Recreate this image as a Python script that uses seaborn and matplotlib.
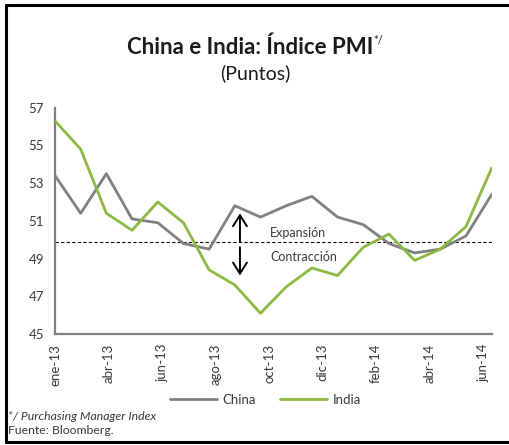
import numpy as np
import pandas as pd
import seaborn as sns
import matplotlib.pyplot as plt
from matplotlib.lines import Line2D

# Datos (puntos PMI, mensual ene-13 a jun-14)
meses = ['ene-13', 'feb-13', 'mar-13', 'abr-13', 'may-13', 'jun-13', 'jul-13', 'ago-13', 'sep-13',
         'oct-13', 'nov-13', 'dic-13', 'ene-14', 'feb-14', 'mar-14', 'abr-14', 'may-14', 'jun-14']
china = [53.4, 51.4, 53.5, 51.1, 50.9, 49.8, 49.5, 51.8, 51.2,
         51.8, 52.3, 51.2, 50.8, 49.8, 49.3, 49.5, 50.2, 52.4]
india = [56.3, 54.8, 51.4, 50.5, 52.0, 50.9, 48.4, 47.6, 46.1,
         47.5, 48.5, 48.1, 49.6, 50.3, 48.9, 49.5, 50.7, 53.8]
etiquetas_x = ['ene-13', 'abr-13', 'jun-13', 'ago-13', 'oct-13', 'dic-13', 'feb-14', 'abr-14', 'jun-14']
umbral = 49.9

gris = '#808080'
verde = '#8DB842'
texto = '#3a3a3a'

sns.set_style("white")
plt.rcParams['font.family'] = ['Lato', 'DejaVu Sans']

df = pd.DataFrame({'x': np.arange(len(meses)), 'China': china, 'India': india})
df_long = df.melt(id_vars='x', var_name='pais', value_name='pmi')

fig = plt.figure(figsize=(5.1, 4.45), dpi=100)
ax = fig.add_axes([55 / 510, 1 - 334 / 445, (491.7 - 55) / 510, (334 - 107.7) / 445])

sns.lineplot(data=df_long, x='x', y='pmi', hue='pais', palette={'China': gris, 'India': verde},
             linewidth=2.0, ax=ax, legend=False, zorder=3)

ax.axhline(umbral, color='black', linestyle=(0, (3, 2)), linewidth=0.8, zorder=2)

# flechas expansión / contracción
flecha = dict(arrowstyle='->, head_length=0.4, head_width=0.25', color='black', lw=1.4,
              mutation_scale=20, shrinkA=0, shrinkB=0)
ax.annotate('', xy=(7.2, 51.4), xytext=(7.2, umbral), arrowprops=flecha)
ax.annotate('', xy=(7.2, 48.1), xytext=(7.2, 49.6), arrowprops=flecha)
ax.text(8.37, 50.35, 'Expansión', fontsize=9, color=texto, va='center', ha='left')
ax.text(8.37, 49.1, 'Contracción', fontsize=9, color=texto, va='center', ha='left')

ax.set_xlim(0, 17)
ax.set_ylim(45, 57)
ax.set_yticks(np.arange(45, 58, 2))
ax.set_xticks(np.arange(len(etiquetas_x)) * 25 / 12)
ax.set_xticklabels(etiquetas_x, rotation=90)
ax.set_xlabel('')
ax.set_ylabel('')

for lado in ['top', 'right']:
    ax.spines[lado].set_visible(False)
for lado in ['left', 'bottom']:
    ax.spines[lado].set_color(gris)
    ax.spines[lado].set_linewidth(1.6)
ax.tick_params(axis='x', direction='inout', length=8, width=1.3, color=gris, labelsize=9.5,
               labelcolor=texto, pad=3)
ax.tick_params(axis='y', direction='out', length=4, width=1.3, color=gris, labelsize=9.5,
               labelcolor=texto, pad=4)

# leyenda
handles = [Line2D([], [], color=gris, lw=2.0), Line2D([], [], color=verde, lw=2.0)]
fig.legend(handles, ['China', 'India'], loc='center', bbox_to_anchor=(0.52, 1 - 400 / 445),
           ncol=2, frameon=False, fontsize=9.5, handlelength=3.6, columnspacing=1.8,
           handletextpad=0.4, labelcolor=texto)

# título
t = fig.text(0.49, 1 - 47 / 445, 'China e India: Índice PMI', ha='center', va='center',
             fontsize=16, fontweight='bold', color='#1a1a1a')
fig.canvas.draw()
bb = t.get_window_extent()
fig.text(bb.x1 / 510 + 0.001, 1 - 40 / 445, '*/', ha='left', va='center', fontsize=8, color='#1a1a1a')
fig.text(0.5, 1 - 73 / 445, '(Puntos)', ha='center', va='center', fontsize=14, color='#1a1a1a')

fig.text(8 / 510, 1 - 417 / 445, '*/ Purchasing Manager Index', ha='left', va='center',
         fontsize=8.8, style='italic', color=texto)
fig.text(8 / 510, 1 - 431 / 445, 'Fuente: Bloomberg.', ha='left', va='center', fontsize=8.8, color=texto)

# marco de la figura
for xs, ys in [([6, 6], [5, 442]), ([6, 510], [5, 5]), ([6, 510], [442, 442])]:
    fig.add_artist(Line2D([x / 510 for x in xs], [1 - y / 445 for y in ys], color='black', lw=2.2))

fig.savefig('out.png', dpi=100)
